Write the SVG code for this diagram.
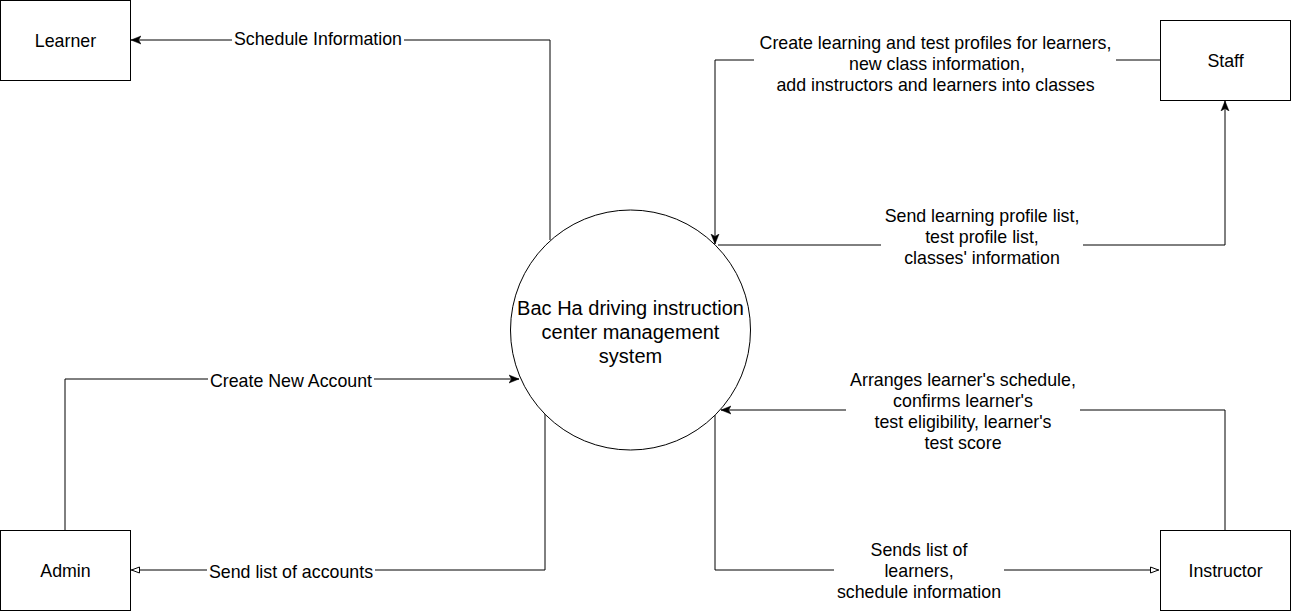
<svg xmlns="http://www.w3.org/2000/svg" width="1291" height="611" viewBox="0 0 1291 611">
<style>
  .box { fill: #fff; stroke: #000; stroke-width: 1; }
  .t { font-family: "Liberation Sans", Arial, sans-serif; font-size: 17.8px; fill: #000; text-anchor: middle; }
  .tc { font-family: "Liberation Sans", Arial, sans-serif; font-size: 20px; fill: #000; text-anchor: middle; }
  .edge { fill: none; stroke: #000; stroke-width: 1; }
  .bg { fill: #fff; }
</style>
<defs>
  <marker id="filled" markerUnits="userSpaceOnUse" markerWidth="10" markerHeight="10" viewBox="0 0 10 10" refX="10" refY="5" orient="auto">
    <path d="M0,1 L10,5 L0,9 L2.5,5 Z" fill="#000" stroke="#000" stroke-width="0.5"/>
  </marker>
  <marker id="open" markerUnits="userSpaceOnUse" markerWidth="10" markerHeight="10" viewBox="0 0 10 10" refX="9.5" refY="5" orient="auto">
    <path d="M1,2 L9,5 L1,8 Z" fill="#fff" stroke="#000" stroke-width="1"/>
  </marker>
</defs>
<rect width="1291" height="611" fill="#fff"/>

<g id="connectors">
  <path class="edge" d="M550,240 L550,40 L131,40" marker-end="url(#filled)"/>
  <path class="edge" d="M65,530 L65,379 L519,379" marker-end="url(#filled)"/>
  <path class="edge" d="M545,414 L545,570 L131,570" marker-end="url(#open)"/>
  <path class="edge" d="M1160,60 L715,60 L715,244" marker-end="url(#filled)"/>
  <path class="edge" d="M718,245 L1225,245 L1225,101" marker-end="url(#filled)"/>
  <path class="edge" d="M1225,530 L1225,410 L721,410" marker-end="url(#filled)"/>
  <path class="edge" d="M715,415 L715,570 L1159,570" marker-end="url(#open)"/>

  <g id="label-schedule">
    <rect class="bg" x="232" y="29" width="172" height="20"/>
    <text class="t" x="318" y="45">Schedule Information</text>
  </g>
  <g id="label-create-account">
    <rect class="bg" x="208" y="370" width="166" height="20"/>
    <text class="t" x="291" y="387">Create New Account</text>
  </g>
  <g id="label-send-accounts">
    <rect class="bg" x="207" y="561" width="168" height="20"/>
    <text class="t" x="291" y="578">Send list of accounts</text>
  </g>
  <g id="label-staff-in">
    <rect class="bg" x="754" y="31" width="362" height="64"/>
    <text class="t" x="935.5" y="49">Create learning and test profiles for learners,</text>
    <text class="t" x="937" y="70">new class information,</text>
    <text class="t" x="935.5" y="91">add instructors and learners into classes</text>
  </g>
  <g id="label-staff-out">
    <rect class="bg" x="881" y="204" width="202" height="64"/>
    <text class="t" x="982" y="222">Send learning profile list,</text>
    <text class="t" x="982" y="243">test profile list,</text>
    <text class="t" x="982" y="264">classes' information</text>
  </g>
  <g id="label-instructor-in">
    <rect class="bg" x="846" y="368" width="234" height="85"/>
    <text class="t" x="963" y="386">Arranges learner's schedule,</text>
    <text class="t" x="963" y="407">confirms learner's</text>
    <text class="t" x="963" y="428">test eligibility, learner's</text>
    <text class="t" x="963" y="449">test score</text>
  </g>
  <g id="label-instructor-out">
    <rect class="bg" x="834" y="538" width="170" height="64"/>
    <text class="t" x="919" y="556">Sends list of</text>
    <text class="t" x="919" y="577">learners,</text>
    <text class="t" x="919" y="598">schedule information</text>
  </g>
</g>

<g id="learner">
  <rect class="box" x="0.5" y="0.5" width="130" height="80"/>
  <text class="t" x="65.5" y="47">Learner</text>
</g>
<g id="staff">
  <rect class="box" x="1160.5" y="20.5" width="130" height="80"/>
  <text class="t" x="1225.5" y="67">Staff</text>
</g>
<g id="admin">
  <rect class="box" x="0.5" y="530.5" width="130" height="80"/>
  <text class="t" x="65.5" y="577">Admin</text>
</g>
<g id="instructor">
  <rect class="box" x="1160.5" y="530.5" width="130" height="80"/>
  <text class="t" x="1225.5" y="577">Instructor</text>
</g>
<g id="system">
  <circle class="box" cx="630.5" cy="330" r="120"/>
  <text class="tc" x="630.5" y="315">Bac Ha driving instruction</text>
  <text class="tc" x="630.5" y="339">center management</text>
  <text class="tc" x="630.5" y="363">system</text>
</g>
</svg>
